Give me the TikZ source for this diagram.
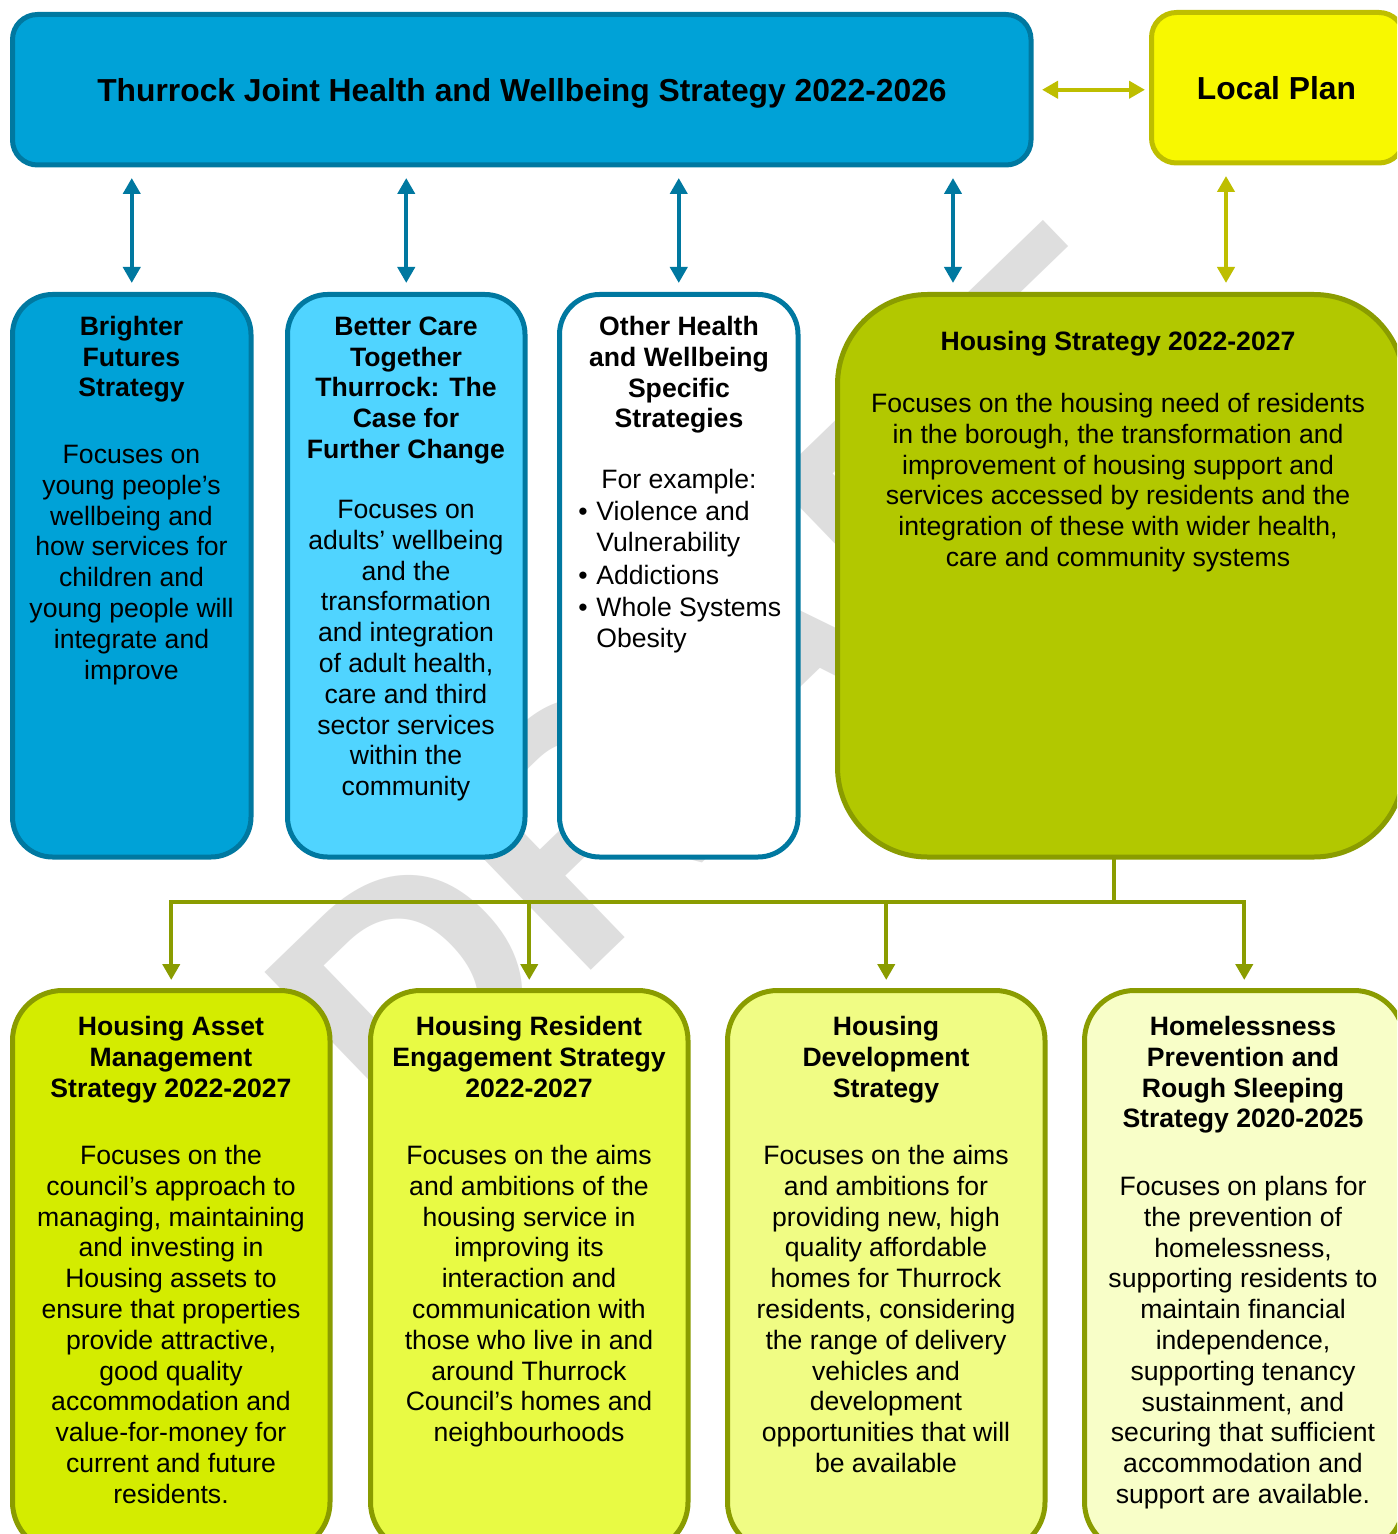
\documentclass[tikz,border=0pt]{standalone}
\usepackage{fontspec}
\setmainfont{Liberation Sans}
\usetikzlibrary{arrows.meta}
\definecolor{bluefill}{HTML}{00A2D7}
\definecolor{blueline}{HTML}{0078A0}
\definecolor{lightblue}{HTML}{50D4FF}
\definecolor{yellowfill}{HTML}{F8F800}
\definecolor{yellowline}{HTML}{BEBE00}
\definecolor{olivefill}{HTML}{B2C800}
\definecolor{oliveline}{HTML}{8A9C00}
\definecolor{limeA}{HTML}{D4EC00}
\definecolor{limeB}{HTML}{E8FA44}
\definecolor{limeC}{HTML}{F0FC84}
\definecolor{limeD}{HTML}{F8FEC8}
\definecolor{wmgray}{HTML}{DEDEDE}
\newcommand\boxnode[7]{%
  \node[#1, rounded corners={#7*0.5pt}, minimum width={(#5-#3)*0.5pt}, minimum height={(#6-#4)*0.5pt}] (#2) at ({(#3+#5)/2},{(#4+#6)/2}) {};}
\tikzset{
  boxbase/.style={draw, line width=2.5pt, inner sep=0pt, outer sep=0pt},
  bluebox/.style={boxbase, draw=blueline},
  olivebox/.style={boxbase, draw=oliveline},
  hd/.style={anchor=north, yshift=10.78pt, inner sep=0pt, align=center, font=\bfseries\fontsize{13.3}{15.4}\selectfont},
  bd/.style={anchor=north, yshift=10.78pt, inner sep=0pt, align=center, font=\fontsize{13.3}{15.4}\selectfont},
  bl/.style={anchor=north west, yshift=10.78pt, inner sep=0pt, align=left, font=\fontsize{13.3}{15.4}\selectfont},
  dot/.style={anchor=base, inner sep=0pt, font=\fontsize{13.3}{15.4}\selectfont},
  bigtitle/.style={anchor=base, inner sep=0pt, font=\bfseries\fontsize{15.9}{19}\selectfont},
  barrow/.style={draw=blueline, line width=2.2pt, {Triangle[length=8pt,width=8.5pt]}-{Triangle[length=8pt,width=8.5pt]}},
  yarrow/.style={draw=yellowline, line width=2.2pt, {Triangle[length=8pt,width=8.5pt]}-{Triangle[length=8pt,width=8.5pt]}},
  treeline/.style={draw=oliveline, line width=2.2pt},
  treearrow/.style={draw=oliveline, line width=2.2pt, -{Triangle[length=8pt,width=8.5pt]}},
  watermark/.style={inner sep=0pt, text=wmgray, font=\bfseries\fontsize{163.5}{163.5}\selectfont}
}
\begin{document}
\begin{tikzpicture}[x=0.5pt,y=-0.5pt]
\useasboundingbox (0,0) rectangle (1397,1534);
\clip (0,0) rectangle (1397,1534);
\fill[white] (0,0) rectangle (1397,1534);

% watermark
\node[watermark, rotate=44, anchor=base west] (wm) at (405,1150) {DRAFT};

% top row
\boxnode{bluebox, fill=bluefill}{top}{12.5}{14.5}{1031}{165}{25}
\boxnode{boxbase, draw=yellowline, fill=yellowfill}{lp}{1151.5}{12.5}{1404}{163}{25}
\node[bigtitle] (toptxt) at (522,101.5) {Thurrock Joint Health and Wellbeing Strategy 2022-2026};
\node[bigtitle] (lptxt) at (1276.5,100) {Local Plan};

% second row
\boxnode{bluebox, fill=bluefill}{b1}{12.5}{294.5}{251}{857}{40}
\boxnode{bluebox, fill=lightblue}{b2}{287.5}{294.5}{525}{857}{40}
\boxnode{bluebox, fill=white}{b3}{559.5}{294.5}{798}{857}{40}
\boxnode{olivebox, fill=olivefill}{hs}{837.5}{294.5}{1404}{857}{90}

% bottom row
\boxnode{olivebox, fill=limeA}{b5}{12.5}{990.5}{330}{1552}{50}
\boxnode{olivebox, fill=limeB}{b6}{370.5}{990.5}{688}{1552}{50}
\boxnode{olivebox, fill=limeC}{b7}{727.5}{990.5}{1045}{1552}{50}
\boxnode{olivebox, fill=limeD}{b8}{1084.5}{990.5}{1404}{1552}{50}

% connectors
\coordinate (c4) at (953,0);
\coordinate (c5) at (1226,0);
\coordinate (c6) at (1114,0);
\coordinate (bus) at (0,902);
\draw[yarrow, shorten <=5.5pt, shorten >=3.25pt] (top.east) -- (top.east -| lp.west);
\draw[barrow, shorten <=6.5pt, shorten >=5.75pt] (b1.north |- top.south) -- (b1.north);
\draw[barrow, shorten <=6.5pt, shorten >=5.75pt] (b2.north |- top.south) -- (b2.north);
\draw[barrow, shorten <=6.5pt, shorten >=5.75pt] (b3.north |- top.south) -- (b3.north);
\draw[barrow, shorten <=6.5pt, shorten >=5.75pt] (c4 |- top.south) -- (c4 |- hs.north);
\draw[yarrow, shorten <=6.5pt, shorten >=5.75pt] (c5 |- lp.south) -- (c5 |- hs.north);
\draw[treeline] (c6 |- hs.south) -- (c6 |- bus);
\draw[treeline, line cap=rect] (b5.north |- bus) -- (b8.north |- bus);
\draw[treearrow, shorten >=5.25pt] (b5.north |- bus) -- (b5.north);
\draw[treearrow, shorten >=5.25pt] (b6.north |- bus) -- (b6.north);
\draw[treearrow, shorten >=5.25pt] (b7.north |- bus) -- (b7.north);
\draw[treearrow, shorten >=5.25pt] (b8.north |- bus) -- (b8.north);

% texts second row
\node[hd] (t1h) at (131.5,335) {\strut Brighter\\Futures\\Strategy};
\node[bd] (t1b) at (131.5,463) {\strut Focuses on\\young people’s\\wellbeing and\\how services for\\children and\\young people will\\integrate and\\improve};
\node[hd] (t2h) at (406,335) {\strut Better Care\\Together\\Thurrock: The\\Case for\\Further Change};
\node[bd] (t2b) at (406,518) {\strut Focuses on\\adults’ wellbeing\\and the\\transformation\\and integration\\of adult health,\\care and third\\sector services\\within the\\community};
\node[hd] (t3h) at (679,335) {\strut Other Health\\and Wellbeing\\Specific\\Strategies};
\node[bd] (t3e) at (679,488) {\strut For example:};
\node[dot] (d1) at (583,520) {•};
\node[dot] (d2) at (583,584) {•};
\node[dot] (d3) at (583,616) {•};
\node[bl] (i1) at (596,520) {\strut Violence and\\Vulnerability};
\node[bl] (i2) at (596,584) {\strut Addictions};
\node[bl] (i3) at (596,616) {\strut Whole Systems\\Obesity};
\node[hd] (t4h) at (1118,350) {\strut Housing Strategy 2022-2027};
\node[bd] (t4b) at (1118,412) {\strut Focuses on the housing need of residents\\in the borough, the transformation and\\improvement of housing support and\\services accessed by residents and the\\integration of these with wider health,\\care and community systems};

% texts bottom row
\node[hd] (t5h) at (171,1035) {\strut Housing Asset\\Management\\Strategy 2022-2027};
\node[bd] (t5b) at (171,1164) {\strut Focuses on the\\council’s approach to\\managing, maintaining\\and investing in\\Housing assets to\\ensure that properties\\provide attractive,\\good quality\\accommodation and\\value-for-money for\\current and future\\residents.};
\node[hd] (t6h) at (529,1035) {\strut Housing Resident\\Engagement Strategy\\2022-2027};
\node[bd] (t6b) at (529,1164) {\strut Focuses on the aims\\and ambitions of the\\housing service in\\improving its\\interaction and\\communication with\\those who live in and\\around Thurrock\\Council’s homes and\\neighbourhoods};
\node[hd] (t7h) at (886,1035) {\strut Housing\\Development\\Strategy};
\node[bd] (t7b) at (886,1164) {\strut Focuses on the aims\\and ambitions for\\providing new, high\\quality affordable\\homes for Thurrock\\residents, considering\\the range of delivery\\vehicles and\\development\\opportunities that will\\be available};
\node[hd] (t8h) at (1243,1035) {\strut Homelessness\\Prevention and\\Rough Sleeping\\Strategy 2020-2025};
\node[bd] (t8b) at (1243,1195) {\strut Focuses on plans for\\the prevention of\\homelessness,\\supporting residents to\\maintain financial\\independence,\\supporting tenancy\\sustainment, and\\securing that sufficient\\accommodation and\\support are available.};
\end{tikzpicture}
\end{document}
